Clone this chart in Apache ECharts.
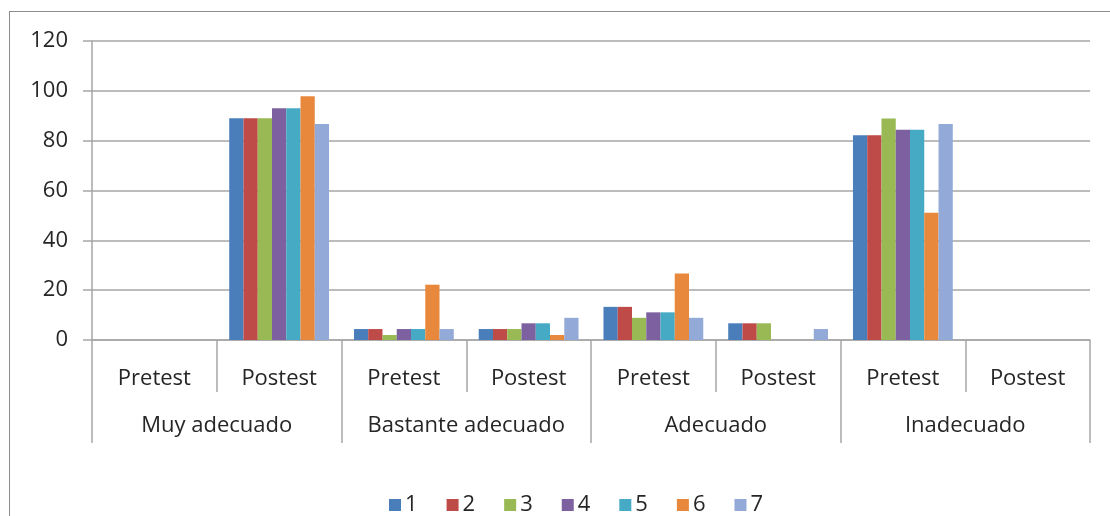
<!DOCTYPE html>
<html><head><meta charset="utf-8">
<script src="https://cdn.jsdelivr.net/npm/echarts@6/dist/echarts.min.js"></script>
<style>html,body{margin:0;padding:0;background:#fff;}
#frame{position:absolute;left:9px;top:11px;width:1110px;height:520px;border:1.5px solid #8c8c8c;box-sizing:border-box;}
#c{position:absolute;left:0;top:0;width:1110px;height:516px;}</style>
</head><body><div id="frame"></div><div id="c"></div>
<script>
const subCategories = ['Pretest','Postest','Pretest','Postest','Pretest','Postest','Pretest','Postest'];
const groups = ['Muy adecuado','Bastante adecuado','Adecuado','Inadecuado'];
const seriesNames = ['1','2','3','4','5','6','7'];
const s1 = [0, 89, 4.4, 4.4, 13.3, 6.7, 82.2, 0];
const s2 = [0, 89, 4.4, 4.4, 13.3, 6.7, 82.2, 0];
const s3 = [0, 89, 2, 4.4, 8.9, 6.7, 88.9, 0];
const s4 = [0, 93, 4.4, 6.7, 11.1, 0, 84.4, 0];
const s5 = [0, 93, 4.4, 6.7, 11.1, 0, 84.4, 0];
const s6 = [0, 97.8, 22.2, 2, 26.7, 0, 51.1, 0];
const s7 = [0, 86.7, 4.4, 8.9, 8.9, 4.4, 86.7, 0];
const yTicks = [0, 20, 40, 60, 80, 100, 120];
const colors = ['#4A7EBB','#BE4B48','#98B954','#7D60A0','#46AAC5','#E8883C','#93A9D8'];
const data = [s1,s2,s3,s4,s5,s6,s7];
const chart = echarts.init(document.getElementById('c'));
const font = '"Open Sans", "Noto Sans", sans-serif';
chart.setOption({
  animation:false,
  color: colors,
  grid:{left:92,right:20,top:41,bottom:176},
  legend:{bottom:-5,left:384,itemWidth:12,itemHeight:12,itemGap:29,icon:'rect',
    textStyle:{fontSize:22,color:'#262626',fontFamily:font,padding:[0,0,0,-1]},data:seriesNames},
  xAxis:[{type:'category',data:subCategories,
     axisLine:{lineStyle:{color:'#a6a6a6',width:1.5}},
     axisTick:{show:true,interval:0,length:52,lineStyle:{color:'#a6a6a6',width:1.5}},
     axisLabel:{interval:0,fontSize:22,color:'#262626',fontFamily:font,margin:28}},
    {type:'category',data:groups,position:'bottom',offset:52,
     axisLine:{show:false},
     axisTick:{show:true,interval:0,length:51,lineStyle:{color:'#a6a6a6',width:1.5}},
     axisLabel:{interval:0,fontSize:22,color:'#262626',fontFamily:font,margin:23}}],
  yAxis:{type:'value',min:0,max:120,interval:20,
    axisLine:{show:true,lineStyle:{color:'#a6a6a6',width:1.5}},
    axisTick:{show:true,length:9,lineStyle:{color:'#a6a6a6',width:1.5}},
    splitLine:{lineStyle:{color:'#a6a6a6',width:1.5}},
    axisLabel:{fontSize:22,color:'#262626',fontFamily:font,margin:24}},
  series: seriesNames.map((n,i)=>({name:n,type:'bar',xAxisIndex:0,data:data[i],
     barGap:'0%',barCategoryGap:'20%'}))
});
</script></body></html>
